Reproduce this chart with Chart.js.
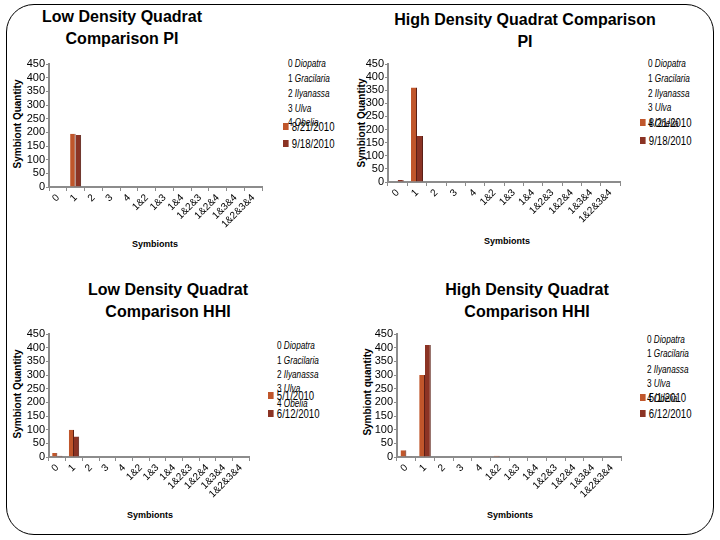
<!DOCTYPE html>
<html><head><meta charset="utf-8">
<script src="https://cdn.jsdelivr.net/npm/chart.js@4.4.1/dist/chart.umd.min.js"></script>
<style>
html,body{margin:0;padding:0;background:#fff;}
#page{position:relative;width:720px;height:540px;overflow:hidden;font-family:'Liberation Sans',Arial,sans-serif;color:#000;}
.frame{position:absolute;left:6px;top:4px;width:708px;height:531px;border:1px solid #000;border-radius:28px;box-sizing:border-box;}
canvas{position:absolute;}
.title{position:absolute;font-weight:bold;font-size:16px;line-height:22px;text-align:center;transform:translateX(-50%);white-space:nowrap;}
.ytitle{position:absolute;font-weight:bold;font-size:10px;white-space:nowrap;transform:translate(-50%,-50%) rotate(-90deg);}
.xtitle{position:absolute;font-weight:bold;font-size:9px;white-space:nowrap;transform:translate(-50%,-50%);}
.key{position:absolute;font-family:'Liberation Sans',sans-serif;font-size:10px;white-space:nowrap;transform-origin:0 50%;transform:translateY(-50%) scaleX(0.82);}
.leg{position:absolute;font-family:'Liberation Sans',sans-serif;font-size:12px;white-space:nowrap;transform-origin:0 50%;transform:translateY(-50%) scaleX(0.8);line-height:14px;}
.sw{display:inline-block;width:7px;height:7px;margin-right:4px;vertical-align:1px;}
</style>
</head><body>
<div id="page"><div class="frame"></div></div>
<script>
// ---------- data ----------
const categories = ['0','1','2','3','4','1&2','1&3','1&4','1&2&3','1&2&4','1&3&4','1&2&3&4'];
const yMax = 450;
const yStep = 50;
const keyNumbers = ['0','1','2','3','4'];
const keyGenera = ['Diopatra','Gracilaria','Ilyanassa','Ulva','Obelia'];

const piDates = ['8/21/2010','9/18/2010'];
const hhiDates = ['5/1/2010','6/12/2010'];

const lowPI_0821  = [0,195,0,0,0,0,0,0,0,0,0,0];
const lowPI_0918  = [0,190,0,0,0,0,0,0,0,0,0,0];
const highPI_0821 = [0,360,0,0,0,0,0,0,0,0,0,0];
const highPI_0918 = [8,175,0,0,0,0,0,0,0,0,0,0];
const lowHHI_0501  = [15,100,0,0,0,3,0,0,0,0,0,0];
const lowHHI_0612  = [5,75,0,0,0,0,0,0,0,0,0,0];
const highHHI_0501 = [25,300,0,0,0,5,0,0,0,0,0,0];
const highHHI_0612 = [3,410,0,0,0,0,0,0,0,0,0,0];

const seriesColors = ['#c0562b','#8b3324'];

// ---------- layout ----------
const page = document.getElementById('page');
function addDiv(cls, html, x, y){
  const d = document.createElement('div');
  d.className = cls; d.innerHTML = html;
  d.style.left = x + 'px'; d.style.top = y + 'px';
  page.appendChild(d); return d;
}

const panels = [
  {title:['Low Density Quadrat','Comparison PI'], tx:122, ty:6, ytitle:'Symbiont Quantity', ytx:17, yty:124, xtx:155, xty:244,
   x0:49, x1:262, yTop:64, y0:186.5, dates:piDates, data:[lowPI_0821, lowPI_0918],
   keyX:288, keyY:[63,77.5,92.5,107.5,121.5], legX:283, legY:[127,144]},
  {title:['High Density Quadrat Comparison','PI'], tx:525, ty:9, ytitle:'Symbiont Quantity', ytx:361, yty:123, xtx:507, xty:241,
   x0:388, x1:620, yTop:64, y0:181.5, dates:piDates, data:[highPI_0821, highPI_0918],
   keyX:648, keyY:[63,77.5,92.5,107,122.5], legX:640, legY:[123,141]},
  {title:['Low Density Quadrat','Comparison HHI'], tx:168, ty:279, ytitle:'Symbiont Quantity', ytx:17, yty:394, xtx:150, xty:515,
   x0:48.5, x1:248, yTop:334, y0:456.5, dates:hhiDates, data:[lowHHI_0501, lowHHI_0612],
   keyX:277, keyY:[345,360,374,388,403], legX:268, legY:[396,414]},
  {title:['High Density Quadrat','Comparison HHI'], tx:527, ty:279, ytitle:'Symbiont quantity', ytx:367, yty:392, xtx:510, xty:515,
   x0:397, x1:621, yTop:333.5, y0:456, dates:hhiDates, data:[highHHI_0501, highHHI_0612],
   keyX:647, keyY:[339,353,368.5,383,398], legX:640, legY:[398,414]}
];

const padL = 32, padT = 8, padR = 6, xH = 60;
const axisColor = '#8c8c8c';

panels.forEach((p, idx) => {
  addDiv('title', p.title.join('<br>'), p.tx, p.ty);
  addDiv('ytitle', p.ytitle, p.ytx, p.yty);
  addDiv('xtitle', 'Symbionts', p.xtx, p.xty);
  keyNumbers.forEach((n, i) => addDiv('key', n + ' <i>' + keyGenera[i] + '</i>', p.keyX, p.keyY[i]));
  p.dates.forEach((d, i) => addDiv('leg', '<span class="sw" style="background:' + seriesColors[i] + '"></span>' + d, p.legX, p.legY[i]));

  const c = document.createElement('canvas');
  const w = Math.round(p.x1 - p.x0 + padL + padR);
  const h = Math.round(p.y0 - p.yTop + padT + xH);
  c.width = w; c.height = h;
  c.style.width = w + 'px'; c.style.height = h + 'px';
  c.style.left = (p.x0 - padL) + 'px'; c.style.top = (p.yTop - padT) + 'px';
  page.appendChild(c);

  new Chart(c, {
    type: 'bar',
    data: {
      labels: categories,
      datasets: p.dates.map((d, i) => ({
        label: d, data: p.data[i], backgroundColor: seriesColors[i],
        borderColor: '#5a1f16', borderWidth: {top: 0, left: 0, bottom: 0, right: 1},
        categoryPercentage: 0.62, barPercentage: 1
      }))
    },
    options: {
      responsive: false, animation: false, devicePixelRatio: 1,
      layout: {padding: {left: 0, top: padT, right: padR, bottom: 0}},
      plugins: {legend: {display: false}, tooltip: {enabled: false}},
      scales: {
        x: {
          afterFit: s => { s.height = xH; },
          grid: {display: true, drawOnChartArea: false, drawTicks: true, tickLength: 4, color: axisColor, offset: true},
          border: {display: true, color: axisColor, width: 2},
          ticks: {autoSkip: false, minRotation: 45, maxRotation: 45, padding: 1, color: '#000',
                  font: {family: 'Liberation Sans', size: 10}}
        },
        y: {
          min: 0, max: yMax,
          afterFit: s => { s.width = padL; },
          ticks: {stepSize: yStep, autoSkip: false, padding: 1, color: '#000', font: {family: 'Liberation Sans', size: 11}},
          grid: {display: true, drawOnChartArea: false, drawTicks: true, tickLength: 3, color: axisColor},
          border: {display: true, color: axisColor, width: 2}
        }
      }
    }
  });
});
</script>
</body></html>
